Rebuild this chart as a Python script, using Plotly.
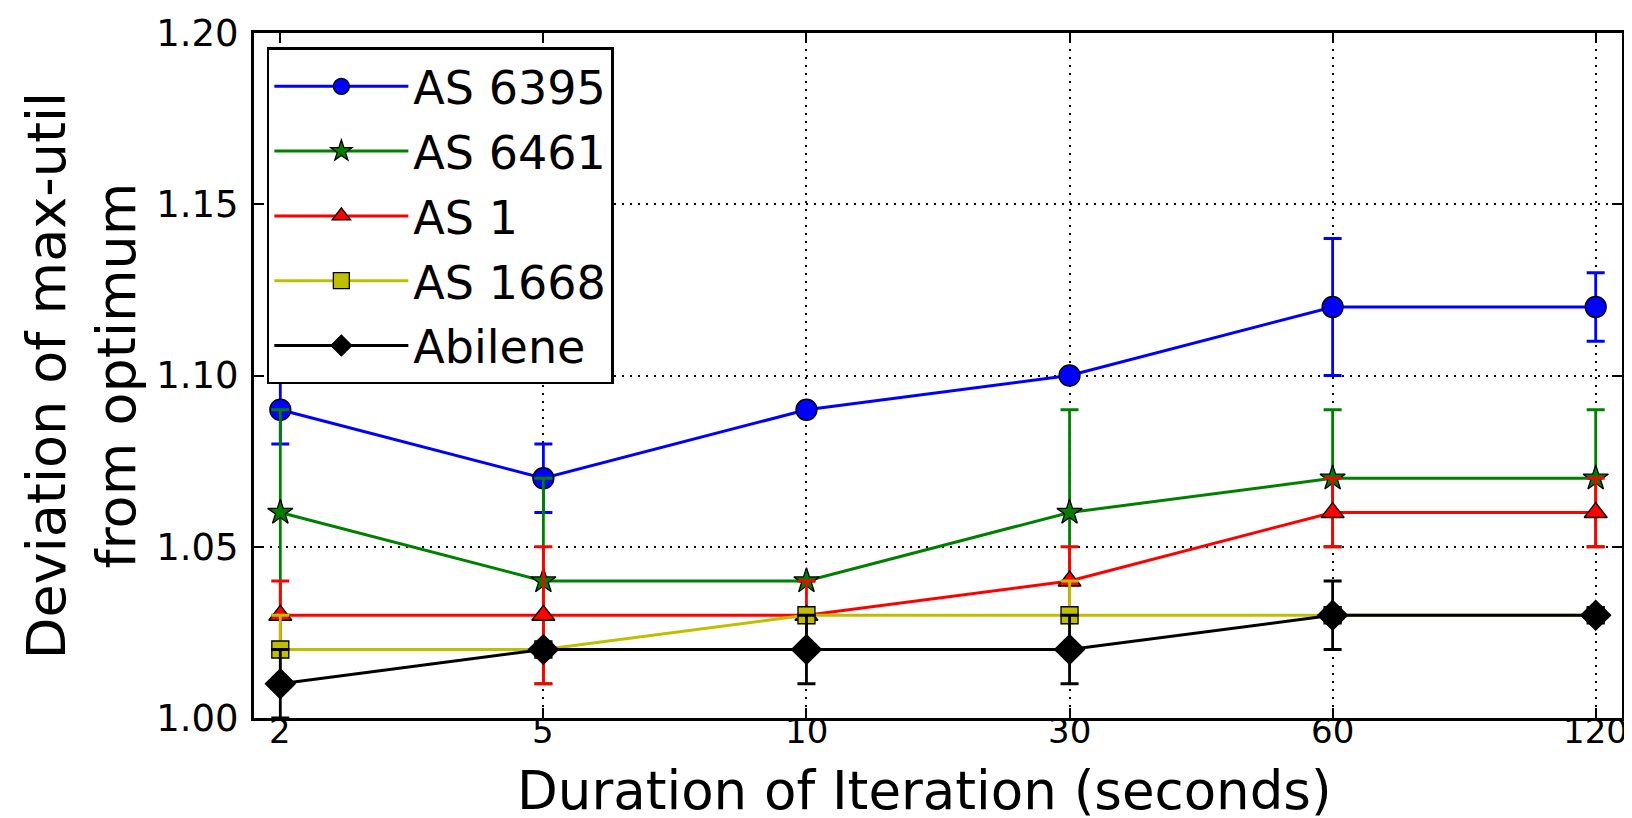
import plotly.graph_objects as go

durations = ["2", "5", "10", "30", "60", "120"]

as6395 = [1.09, 1.07, 1.09, 1.10, 1.12, 1.12]
as6395_err = [0.01, 0.01, 0.0, 0.0, 0.02, 0.01]

as6461 = [1.06, 1.04, 1.04, 1.06, 1.07, 1.07]
as6461_err = [0.03, 0.03, 0.0, 0.03, 0.02, 0.02]

as1 = [1.03, 1.03, 1.03, 1.04, 1.06, 1.06]
as1_err = [0.01, 0.02, 0.01, 0.01, 0.01, 0.01]

as1668 = [1.02, 1.02, 1.03, 1.03, 1.03, 1.03]
as1668_err = [0.01, 0.0, 0.0, 0.01, 0.0, 0.0]

abilene = [1.01, 1.02, 1.02, 1.02, 1.03, 1.03]
abilene_err = [0.01, 0.0, 0.01, 0.01, 0.01, 0.0]

series = [
    ("AS 6395", as6395, as6395_err, "#0000ff", "circle", 21),
    ("AS 6461", as6461, as6461_err, "#008000", "star", 19),
    ("AS 1", as1, as1_err, "#ff0000", "triangle-up", 20),
    ("AS 1668", as1668, as1668_err, "#bfbf00", "square", 17),
    ("Abilene", abilene, abilene_err, "#000000", "diamond", 23),
]

fig = go.Figure()
for name, ys, errs, color, sym, size in series:
    fig.add_trace(go.Scatter(
        x=list(range(len(durations))), y=ys, name=name, mode="lines+markers",
        legendgroup=name,
        line=dict(color=color, width=3),
        marker=dict(symbol=sym, size=size, color=color, line=dict(color="black", width=1.3)),
        error_y=dict(type="data", array=errs, visible=True, color=color, thickness=2.8, width=9),
    ))

annotations = [
    dict(text=lbl, x=i, xref="x", y=0, yref="paper", xanchor="center", yanchor="top",
         yshift=9, showarrow=False, font=dict(size=34))
    for i, lbl in enumerate(durations)
]
annotations += [
    dict(text="Duration of Iteration (seconds)", xref="paper", yref="paper",
         x=0.49, y=-0.106, xanchor="center", yanchor="middle", showarrow=False,
         font=dict(size=53)),
    dict(text="Deviation of max-util<br>from optimum", xref="paper", yref="paper",
         x=-0.126, y=0.5, xanchor="center", yanchor="middle", showarrow=False,
         textangle=-90, font=dict(size=54)),
]

grid = dict(showgrid=True, gridcolor="black", griddash="2px,6px", gridwidth=1.6)
fig.update_layout(
    width=1632, height=818,
    margin=dict(l=246, r=18, t=25, b=108),
    paper_bgcolor="white", plot_bgcolor="white",
    font=dict(family="DejaVu Sans", color="black"),
    showlegend=True,
    legend=dict(
        x=0.0094, y=0.979, xanchor="left", yanchor="top",
        bordercolor="black", borderwidth=2.5, bgcolor="white",
        font=dict(size=46, family="DejaVu Sans"),
        itemwidth=134, tracegroupgap=2,
    ),
    xaxis=dict(
        range=[-0.1, 5.1], tickmode="array", tickvals=list(range(len(durations))),
        showticklabels=False, ticks="inside", ticklen=10,
        tickcolor="black", tickwidth=1.5, showline=True, linecolor="black", linewidth=3,
        mirror="ticks", zeroline=False, automargin=False,
        **grid,
    ),
    yaxis=dict(
        range=[1.0, 1.2], tickmode="array", tickvals=[1.0, 1.05, 1.10, 1.15, 1.20],
        ticktext=["1.00", "1.05", "1.10", "1.15", "1.20"], tickfont=dict(size=37),
        ticks="inside", ticklen=10, tickcolor="black", tickwidth=1.5,
        showline=True, linecolor="black", linewidth=3, mirror="ticks", zeroline=False,
        ticklabelstandoff=5, automargin=False,
        **grid,
    ),
    annotations=annotations,
)
fig.write_html("out.html")
